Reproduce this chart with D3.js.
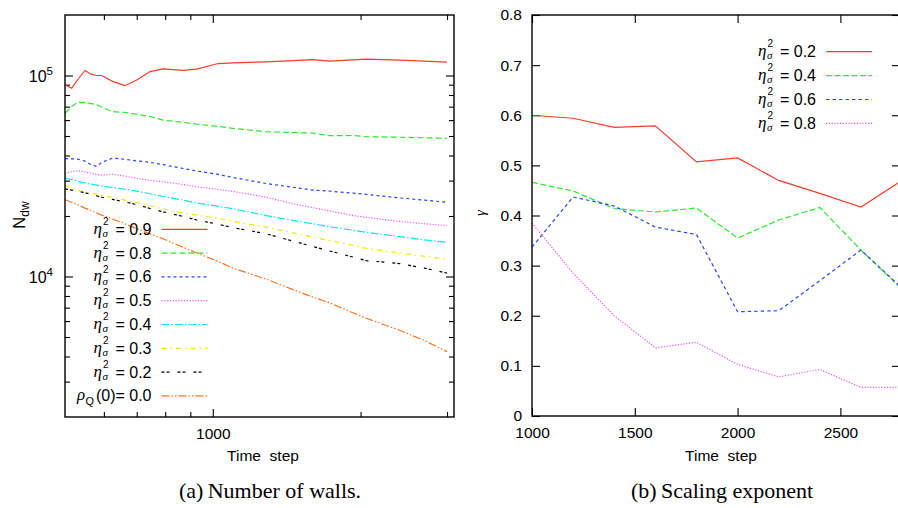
<!DOCTYPE html>
<html><head><meta charset="utf-8">
<script src="https://cdn.jsdelivr.net/npm/d3@7"></script>
<style>
body{margin:0;background:#fff}
svg{display:block}
</style>
</head><body>
<svg id="c" width="898" height="508"></svg>
<script>
// ---------- Data: (a) number of walls ----------
const timeA = [500,516,530,549,565,580,594,625,662,700,745,792,869,927,1025,1100,1286,1457,1600,1730,1929,2054,2401,2700,3000];
const nEta09 = [90000,86500,95000,106000,101500,100000,100000,93500,89000,95000,104600,108000,106000,107600,114700,115500,117000,118500,120000,118000,119500,120700,119300,118000,116500];
const nEta08 = [65000,70000,73500,73500,72500,71500,69500,66200,65500,64200,62500,60000,58500,57300,55800,54600,52500,52000,51700,50200,50300,49600,49300,49000,48700];
const nEta06 = [38600,38500,38400,37500,36000,35300,37000,38800,38300,37600,37000,36000,34500,33500,32200,31100,29000,27800,26900,26600,26000,25600,24600,24000,23400];
const nEta05 = [32700,33200,33600,33200,32600,32200,31900,32300,31600,30800,30100,29600,28700,28000,27100,26500,24800,23000,22000,21200,20100,19700,18800,18300,17900];
const nEta04 = [30900,30300,29800,29200,28800,28500,28200,27700,27200,26600,25800,25000,24000,23200,22400,21700,20100,19000,18300,17700,17000,16600,15800,15200,14800];
const nEta03 = [28500,27500,26800,26300,26000,25700,25400,24700,24000,23300,22500,21700,20700,20200,19500,18800,17600,16500,15700,15100,14300,13800,13100,12600,12200];
const nEta02 = [27300,26900,26600,26100,25600,25200,24800,24200,23500,22800,21800,21000,19900,19100,18200,17500,16300,15000,14100,13400,12500,12000,11600,11000,10400];
const nRho00 = [24100,23400,22800,21900,21300,20700,20200,19300,18300,17300,16300,15400,14000,13100,11900,11000,9700,8600,7900,7400,6600,6200,5400,4800,4230];
const legendA = ["0.9","0.8","0.6","0.5","0.4","0.3","0.2"];
const legendRho = "0.0";
const xTicksMajorA = [1000];
const xTicksMinorA = [600,700,800,900,2000,3000];
const yTicksMajorA = [1e4,1e5];
const yTicksMinorA = [3000,4000,5000,6000,7000,8000,9000,20000,30000,40000,50000,60000,70000,80000,90000];

// ---------- Data: (b) scaling exponent ----------
const timeB = [1000,1200,1400,1600,1800,2000,2200,2400,2600,2800];
const gEta02 = [0.600,0.594,0.576,0.579,0.507,0.515,0.470,0.444,0.417,0.470];
const gEta04 = [0.466,0.449,0.414,0.407,0.415,0.355,0.391,0.416,0.331,0.253];
const gEta06 = [0.337,0.437,0.419,0.377,0.362,0.208,0.210,0.270,0.331,0.255];
const gEta08 = [0.385,0.285,0.200,0.136,0.147,0.103,0.078,0.093,0.057,0.057];
const legendB = ["0.2","0.4","0.6","0.8"];
const xTicksB = [1000,1500,2000,2500];
const yTicksB = [0,0.1,0.2,0.3,0.4,0.5,0.6,0.7,0.8];

// ---------- Styles ----------
const SANS = "'Liberation Sans', Arial, Helvetica, sans-serif";
const SERIF = "'Liberation Serif', 'Times New Roman', serif";
const TICK_FS = 15.5, LEG_FS = 16;
const styleA = [
  {c:"#f53d2a", d:null},
  {c:"#2ee82e", d:"6,3"},
  {c:"#2448f0", d:"3,3"},
  {c:"#f050f0", d:"1.2,1.6"},
  {c:"#10e4f0", d:"8,2,1.5,2"},
  {c:"#ecec00", d:"5,4,1.5,4"},
  {c:"#000000", d:"3,2,3,8"},
  {c:"#ff7420", d:"8,2,1.5,2,1.5,2"}
];
const styleB = [
  {c:"#f53d2a", d:null},
  {c:"#2ee82e", d:"6,2.5"},
  {c:"#2448f0", d:"3.5,3"},
  {c:"#f050f0", d:"1.2,1.6"}
];

const svg = d3.select("#c");

function styleAxis(g, fs){
  g.select(".domain").remove();
  g.attr("font-size", fs).attr("font-family", SANS);
  g.selectAll("line").attr("stroke","#000").attr("stroke-width",1.1);
  g.selectAll("text").attr("fill","#000");
}

// ================= Panel (a) =================
const xA = d3.scaleLog().domain([500, 3100]).range([65, 454]);
const yA = d3.scaleLog().domain([2000, 200000]).range([417, 15]);

svg.append("clipPath").attr("id","clipA").append("rect")
  .attr("x",65).attr("y",15).attr("width",389).attr("height",402);

const gA = svg.append("g");
const bA = gA.append("g").attr("transform","translate(0,417)");
bA.append("g").call(d3.axisBottom(xA).tickValues(xTicksMajorA).tickSize(-8).tickPadding(10.5).tickFormat(d3.format("d"))).call(g=>styleAxis(g,TICK_FS));
bA.append("g").call(d3.axisBottom(xA).tickValues(xTicksMinorA).tickSize(-5).tickFormat("")).call(g=>styleAxis(g,TICK_FS));
const tA = gA.append("g").attr("transform","translate(0,15)");
tA.append("g").call(d3.axisTop(xA).tickValues(xTicksMajorA).tickSize(-8).tickFormat("")).call(g=>styleAxis(g,TICK_FS));
tA.append("g").call(d3.axisTop(xA).tickValues(xTicksMinorA).tickSize(-5).tickFormat("")).call(g=>styleAxis(g,TICK_FS));
const lA = gA.append("g").attr("transform","translate(65,0)");
lA.append("g").call(d3.axisLeft(yA).tickValues(yTicksMajorA).tickSize(-8).tickFormat("")).call(g=>styleAxis(g,TICK_FS));
lA.append("g").call(d3.axisLeft(yA).tickValues(yTicksMinorA).tickSize(-5).tickFormat("")).call(g=>styleAxis(g,TICK_FS));
const rA = gA.append("g").attr("transform","translate(454,0)");
rA.append("g").call(d3.axisRight(yA).tickValues(yTicksMajorA).tickSize(-8).tickFormat("")).call(g=>styleAxis(g,TICK_FS));
rA.append("g").call(d3.axisRight(yA).tickValues(yTicksMinorA).tickSize(-5).tickFormat("")).call(g=>styleAxis(g,TICK_FS));
yTicksMajorA.forEach(v=>{
  const t = gA.append("text").attr("x",53).attr("y",yA(v)+6).attr("text-anchor","end")
    .attr("font-family",SANS).attr("font-size",TICK_FS+0.5);
  t.append("tspan").text("10");
  t.append("tspan").attr("dy",-7).attr("font-size",11.5).text(Math.round(Math.log10(v)));
});

const seriesA = [nEta09,nEta08,nEta06,nEta05,nEta04,nEta03,nEta02,nRho00];
const lineA = d3.line().x((d,i)=>xA(timeA[i])).y(d=>yA(d));
const plotA = gA.append("g").attr("clip-path","url(#clipA)");
seriesA.forEach((s,k)=>{
  plotA.append("path").datum(s).attr("d",lineA).attr("fill","none")
    .attr("stroke",styleA[k].c).attr("stroke-width",1.2)
    .attr("stroke-dasharray",styleA[k].d);
});

gA.append("rect").attr("x",65).attr("y",15).attr("width",389).attr("height",402)
  .attr("fill","none").attr("stroke","#000").attr("stroke-width",1.4);

const ndw = gA.append("text").attr("transform","translate(25,215) rotate(-90)")
  .attr("text-anchor","middle").attr("font-family",SANS).attr("font-size",16.5);
ndw.append("tspan").text("N");
ndw.append("tspan").attr("dy",4).attr("font-size",12).text("dw");
gA.append("text").attr("x",263).attr("y",461).attr("text-anchor","middle")
  .attr("font-family",SANS).attr("font-size",TICK_FS).style("white-space","pre").text("Time  step");

function etaEntry(g, xEnd, yc, val, fs){
  const eq = g.append("text").attr("x",xEnd).attr("y",yc+5.5).attr("text-anchor","end")
    .attr("font-family",SANS).attr("font-size",fs).style("white-space","pre").text("= "+val);
  const w = eq.node().getComputedTextLength();
  const x0 = xEnd - w;
  g.append("text").attr("x",x0-22).attr("y",yc+4.5).attr("font-family",SERIF)
    .attr("font-style","italic").attr("font-size",fs+1).text("η");
  g.append("text").attr("x",x0-12.5).attr("y",yc-4.3).attr("font-family",SANS)
    .attr("font-size",10).text("2");
  g.append("text").attr("x",x0-13).attr("y",yc+7.7).attr("font-family",SERIF)
    .attr("font-style","italic").attr("font-size",11).text("σ");
}
function rhoEntry(g, xEnd, yc, val, fs){
  const eq = g.append("text").attr("x",xEnd).attr("y",yc+5.5).attr("text-anchor","end")
    .attr("font-family",SANS).attr("font-size",fs).style("white-space","pre").text("(0)= "+val);
  const w = eq.node().getComputedTextLength();
  const x0 = xEnd - w;
  g.append("text").attr("x",x0-19).attr("y",yc+4.5).attr("font-family",SERIF)
    .attr("font-style","italic").attr("font-size",fs+1).text("ρ");
  g.append("text").attr("x",x0-10.5).attr("y",yc+9.5).attr("font-family",SANS)
    .attr("font-size",fs*0.68).text("Q");
}

const legA = gA.append("g");
const rowsA = [229.3,253.1,276.9,300.7,324.5,348.3,372.1,395.9];
legendA.forEach((v,k)=>etaEntry(legA,151.5,rowsA[k],v,LEG_FS));
rhoEntry(legA,151.5,rowsA[7],legendRho,LEG_FS);
rowsA.forEach((y,k)=>{
  legA.append("line").attr("x1",161.5).attr("x2",207.5).attr("y1",y).attr("y2",y)
    .attr("stroke",styleA[k].c).attr("stroke-width",1.2).attr("stroke-dasharray",styleA[k].d);
});

// ================= Panel (b) =================
const xB = d3.scaleLinear().domain([1000, 2790]).range([532, 900]);
const yB = d3.scaleLinear().domain([0, 0.8]).range([416, 15]);

svg.append("clipPath").attr("id","clipB").append("rect")
  .attr("x",532).attr("y",15).attr("width",368).attr("height",401);

const gB = svg.append("g");
gB.append("g").attr("transform","translate(0,416)")
  .call(d3.axisBottom(xB).tickValues(xTicksB).tickSize(-8).tickPadding(10.5).tickFormat(d3.format("d"))).call(g=>styleAxis(g,TICK_FS));
gB.append("g").attr("transform","translate(0,15)")
  .call(d3.axisTop(xB).tickValues(xTicksB).tickSize(-8).tickFormat("")).call(g=>styleAxis(g,TICK_FS));
gB.append("g").attr("transform","translate(532,0)")
  .call(d3.axisLeft(yB).tickValues(yTicksB).tickSize(-8).tickPadding(10).tickFormat(d=>d===0?"0":d3.format(".1f")(d))).call(g=>styleAxis(g,TICK_FS));
gB.append("g").attr("transform","translate(900,0)")
  .call(d3.axisRight(yB).tickValues(yTicksB).tickSize(-8).tickFormat("")).call(g=>styleAxis(g,TICK_FS));

const seriesB = [gEta02,gEta04,gEta06,gEta08];
const lineB = d3.line().x((d,i)=>xB(timeB[i])).y(d=>yB(d));
const plotB = gB.append("g").attr("clip-path","url(#clipB)");
seriesB.forEach((s,k)=>{
  plotB.append("path").datum(s).attr("d",lineB).attr("fill","none")
    .attr("stroke",styleB[k].c).attr("stroke-width",1.2)
    .attr("stroke-dasharray",styleB[k].d);
});

gB.append("rect").attr("x",532).attr("y",15).attr("width",368).attr("height",401)
  .attr("fill","none").attr("stroke","#000").attr("stroke-width",1.4);

gB.append("text").attr("transform","translate(485,213) rotate(-90)")
  .attr("text-anchor","middle").attr("font-family",SERIF).attr("font-style","italic")
  .attr("font-size",15).text("γ");
gB.append("text").attr("x",721).attr("y",461).attr("text-anchor","middle")
  .attr("font-family",SANS).attr("font-size",TICK_FS).style("white-space","pre").text("Time  step");

const legB = gB.append("g");
const rowsB = [51.7,75.6,99.5,123.4];
legendB.forEach((v,k)=>{
  etaEntry(legB,816,rowsB[k],v,LEG_FS);
  legB.append("line").attr("x1",826).attr("x2",872).attr("y1",rowsB[k]).attr("y2",rowsB[k])
    .attr("stroke",styleB[k].c).attr("stroke-width",1.2).attr("stroke-dasharray",styleB[k].d);
});

// captions
svg.append("text").attr("x",270).attr("y",498).attr("text-anchor","middle")
  .attr("font-family",SERIF).attr("font-size",22).text("(a)\u2009Number of walls.");
svg.append("text").attr("x",722).attr("y",498).attr("text-anchor","middle")
  .attr("font-family",SERIF).attr("font-size",22).text("(b)\u2009Scaling exponent");
</script>
</body></html>
